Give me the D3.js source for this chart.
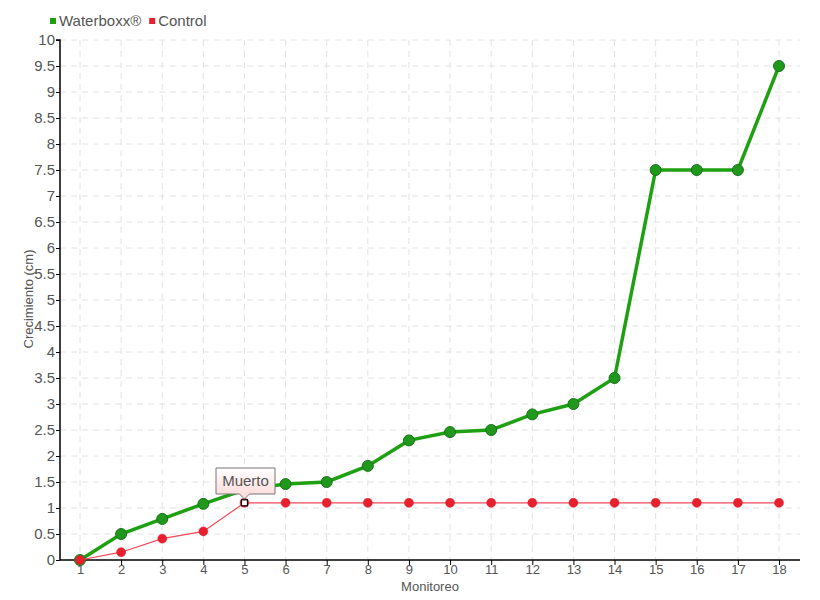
<!DOCTYPE html>
<html><head><meta charset="utf-8">
<script src="https://cdn.jsdelivr.net/npm/d3@7"></script>
<style>
body{margin:0;background:#fff;}
text{font-family:"Liberation Sans",Arial,sans-serif;fill:#555;}
</style></head>
<body><svg id="c" width="820" height="600"></svg>
<script>
const categories = [1,2,3,4,5,6,7,8,9,10,11,12,13,14,15,16,17,18];
const waterboxx = [0,0.5,0.79,1.08,1.35,1.46,1.5,1.81,2.3,2.46,2.5,2.8,3.0,3.5,7.5,7.5,7.5,9.5];
const control = [0,0.15,0.41,0.55,1.1,1.1,1.1,1.1,1.1,1.1,1.1,1.1,1.1,1.1,1.1,1.1,1.1,1.1];
const yTicks = [0,0.5,1,1.5,2,2.5,3,3.5,4,4.5,5,5.5,6,6.5,7,7.5,8,8.5,9,9.5,10];
const seriesNames = ["Waterboxx®","Control"];
const tooltipText = "Muerto";
const tooltipIndex = 4;

const svg = d3.select("#c");
const pL=60, pR=800, pT=40, pB=560;
const x = d3.scalePoint().domain(categories).range([80,779]);
const y = d3.scaleLinear().domain([0,10]).range([pB,pT]);

// grid
const g = svg.append("g");
g.selectAll("line.h").data(yTicks.slice(1)).enter().append("line")
 .attr("x1",pL).attr("x2",pR).attr("y1",d=>y(d)).attr("y2",d=>y(d))
 .attr("stroke","#e2e2e2").attr("stroke-dasharray","6,5");
g.selectAll("line.v").data(categories).enter().append("line")
 .attr("x1",d=>x(d)).attr("x2",d=>x(d)).attr("y1",pT).attr("y2",pB)
 .attr("stroke","#e2e2e2").attr("stroke-dasharray","6,5");

// axes
const yAxis = d3.axisLeft(y).tickValues(yTicks).tickSize(4).tickFormat(d=>d3.format("~g")(d));
const ya = svg.append("g").attr("transform",`translate(${pL},0)`).call(yAxis);
ya.select(".domain").attr("stroke","#000").attr("stroke-width",1.5).attr("d",`M-4,${pT}H0V${pB}`);
ya.selectAll(".tick line").attr("stroke","#000");
ya.selectAll(".tick text").style("font-size","15px").attr("fill","#555").attr("x",-5);

const xAxis = d3.axisBottom(x).tickSize(5);
const xa = svg.append("g").attr("transform",`translate(0,${pB})`).call(xAxis);
xa.select(".domain").attr("stroke","#000").attr("stroke-width",1.5).attr("d",`M${pL},0H${pR}`);
xa.selectAll(".tick line").attr("stroke","#000");
xa.selectAll(".tick text").style("font-size","13px").attr("fill","#555").attr("y",5);

svg.append("text").attr("x",430).attr("y",591).attr("text-anchor","middle").style("font-size","13px").attr("fill","#555").text("Monitoreo");
svg.append("text").attr("transform","translate(33,299) rotate(-90)").attr("text-anchor","middle").style("font-size","13px").attr("fill","#555").text("Crecimiento (cm)");

// lines
const line = d3.line().x((d,i)=>x(categories[i])).y(d=>y(d));
svg.append("path").datum(waterboxx).attr("d",line).attr("fill","none").attr("stroke","#1fa012").attr("stroke-width",3.5);
svg.selectAll("circle.w").data(waterboxx).enter().append("circle")
 .attr("cx",(d,i)=>x(categories[i])).attr("cy",d=>y(d)).attr("r",5.5)
 .attr("fill","#20981c").attr("stroke","#17731a").attr("stroke-width",1);
svg.append("path").datum(control).attr("d",line).attr("fill","none").attr("stroke","#f24858").attr("stroke-width",1.2);
svg.selectAll("circle.c").data(control).enter().append("circle")
 .attr("cx",(d,i)=>x(categories[i])).attr("cy",d=>y(d)).attr("r",4.5)
 .attr("fill","#e8202e").attr("stroke","#d81c2c").attr("stroke-width",0.5);
// hovered point
const hx = x(categories[tooltipIndex]), hy = y(control[tooltipIndex]);
svg.append("rect").attr("x",hx-3).attr("y",hy-3).attr("width",6).attr("height",6).attr("fill","#fff").attr("stroke","#000").attr("stroke-width",1.2);

// tooltip
const defs = svg.append("defs");
const grad = defs.append("linearGradient").attr("id","tg").attr("x1",0).attr("y1",0).attr("x2",0).attr("y2",1);
grad.append("stop").attr("offset","0%").attr("stop-color","#ffffff");
grad.append("stop").attr("offset","100%").attr("stop-color","#fcd6d6");
const bx=216, by=468, bw=59, bh=26;
svg.append("path").attr("d",`M${bx},${by}H${bx+bw}V${by+bh}H${hx+5}L${hx},${by+bh+5}L${hx-5},${by+bh}H${bx}Z`)
 .attr("fill","url(#tg)").attr("stroke","#777").attr("stroke-width",1);
svg.append("text").attr("x",bx+bw/2).attr("y",by+18).attr("text-anchor","middle").style("font-size","15px").attr("fill","#555").text(tooltipText);

// legend
const legColors = ["#1fa012","#e8202e"];
let lxPos = 50;
seriesNames.forEach((n,i)=>{
  svg.append("rect").attr("x",lxPos).attr("y",18).attr("width",6).attr("height",6).attr("fill",legColors[i]);
  const t = svg.append("text").attr("x",lxPos+9).attr("y",26).style("font-size","15px").attr("fill","#555").text(n);
  lxPos += 9 + t.node().getComputedTextLength() + 8;
});
</script></body></html>
